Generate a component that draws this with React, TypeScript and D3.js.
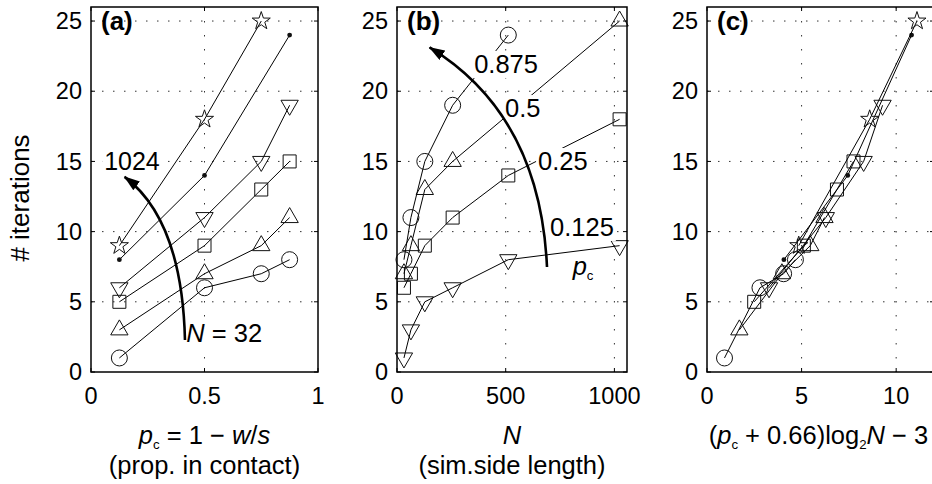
import { useEffect, useRef } from "react";
import * as d3 from "d3";

// contact proportion p_c (x of panel a)
const pcValues = [0.125, 0.5, 0.75, 0.875];
// simulation side length N (x of panel b)
const nValues = [32, 64, 128, 256, 512, 1024];

// # iterations: one array per N, one entry per p_c (null = not run)
const itersN32 = [1, 6, 7, 8];
const itersN64 = [3, 7, 9, 11];
const itersN128 = [5, 9, 13, 15];
const itersN256 = [6, 11, 15, 19];
const itersN512 = [8, 14, null, 24];
const itersN1024 = [9, 18, 25, null];
const iterRows = [itersN32, itersN64, itersN128, itersN256, itersN512, itersN1024];

// marker per N (panels a, c) and per p_c (panel b)
const nMarkers = ["circle", "triUp", "square", "triDown", "dot", "star"];
const pcMarkers = ["triDown", "square", "triUp", "circle"];

// panel b curve labels (as printed), top to bottom
const pcLabels = ["0.875", "0.5", "0.25", "0.125"];

const yTicks = [0, 5, 10, 15, 20, 25];
const xTicksA = [0, 0.5, 1];
const xTicksB = [0, 500, 1000];
const xTicksC = [0, 5, 10];

const W = 932;
const H = 484;
const TOP = 7;
const BOTTOM = 372;
const FONT = "'Liberation Sans', Arial, Helvetica, sans-serif";

// label anchors in data units of panel b
const pcLabelPos = [
  [355, 21.3],
  [497, 18.16],
  [649, 14.39],
  [704, 9.69],
];

type Pt = [number, number];

const App = () => {
  const svgRef = useRef<SVGSVGElement>(null);

  useEffect(() => {
    if (!svgRef.current) return;
    const svg = d3.select(svgRef.current);
    svg.selectAll("*").remove();

    const y = d3.scaleLinear().domain([0, 26]).range([BOTTOM, TOP]);
    const xA = d3.scaleLinear().domain([0, 1]).range([91, 318]);
    const xB = d3.scaleLinear().domain([0, 1058]).range([397, 627]);
    const xC = d3.scaleLinear().domain([0, 12]).range([707, 934]);

    // arrow head
    svg
      .append("defs")
      .append("marker")
      .attr("id", "head")
      .attr("viewBox", "0 0 16 11")
      .attr("refX", 15)
      .attr("refY", 5.5)
      .attr("markerWidth", 16)
      .attr("markerHeight", 11)
      .attr("markerUnits", "userSpaceOnUse")
      .attr("orient", "auto")
      .append("path")
      .attr("d", "M0,0 L16,5.5 L0,11 Z")
      .attr("fill", "#000");

    const markerPath = (type: string) => {
      if (type === "triUp") return "M0,-10 L8.66,5 L-8.66,5 Z";
      if (type === "triDown") return "M0,10 L8.66,-5 L-8.66,-5 Z";
      if (type === "square") return "M-6.5,-6.5 H6.5 V6.5 H-6.5 Z";
      if (type === "star") {
        const pts: string[] = [];
        for (let k = 0; k < 10; k++) {
          const r = k % 2 === 0 ? 9.5 : 3.7;
          const a = -Math.PI / 2 + (k * Math.PI) / 5;
          pts.push(`${(r * Math.cos(a)).toFixed(2)},${(r * Math.sin(a)).toFixed(2)}`);
        }
        return "M" + pts.join("L") + "Z";
      }
      return "";
    };

    const drawFrame = (
      x: d3.ScaleLinear<number, number>,
      xTicks: number[],
    ) => {
      const g = svg.append("g");
      const [l, r] = x.range();
      const [d0, d1] = x.domain();
      // dotted grid
      yTicks
        .filter((t) => t > 0)
        .forEach((t) => {
          g.append("line")
            .attr("x1", l)
            .attr("x2", r)
            .attr("y1", y(t))
            .attr("y2", y(t))
            .attr("stroke", "#333")
            .attr("stroke-width", 1)
            .attr("stroke-dasharray", "1.5,9.5");
        });
      xTicks
        .filter((t) => t > d0 && t < d1)
        .forEach((t) => {
          g.append("line")
            .attr("x1", x(t))
            .attr("x2", x(t))
            .attr("y1", TOP)
            .attr("y2", BOTTOM)
            .attr("stroke", "#333")
            .attr("stroke-width", 1)
            .attr("stroke-dasharray", "1.5,12.5");
        });
      return g;
    };

    const drawAxes = (
      x: d3.ScaleLinear<number, number>,
      xTicks: number[],
    ) => {
      const g = svg.append("g");
      const [l, r] = x.range();
      g.append("rect")
        .attr("x", l)
        .attr("y", TOP)
        .attr("width", r - l)
        .attr("height", BOTTOM - TOP)
        .attr("fill", "none")
        .attr("stroke", "#000")
        .attr("stroke-width", 1.5);
      xTicks.forEach((t) => {
        g.append("line")
          .attr("x1", x(t)).attr("x2", x(t))
          .attr("y1", BOTTOM).attr("y2", BOTTOM - 4)
          .attr("stroke", "#000");
        g.append("line")
          .attr("x1", x(t)).attr("x2", x(t))
          .attr("y1", TOP).attr("y2", TOP + 4)
          .attr("stroke", "#000");
        g.append("text")
          .attr("x", x(t))
          .attr("y", 404)
          .attr("text-anchor", "middle")
          .attr("font-size", 23.5)
          .attr("font-family", FONT)
          .text(String(t));
      });
      yTicks.forEach((t) => {
        g.append("line")
          .attr("x1", l).attr("x2", l + 4)
          .attr("y1", y(t)).attr("y2", y(t))
          .attr("stroke", "#000");
        g.append("line")
          .attr("x1", r).attr("x2", r - 4)
          .attr("y1", y(t)).attr("y2", y(t))
          .attr("stroke", "#000");
        g.append("text")
          .attr("x", l - 9)
          .attr("y", y(t))
          .attr("dy", "0.35em")
          .attr("text-anchor", "end")
          .attr("font-size", 23.5)
          .attr("font-family", FONT)
          .text(String(t));
      });
    };

    const drawSeries = (
      g: d3.Selection<SVGGElement, unknown, null, undefined>,
      x: d3.ScaleLinear<number, number>,
      pts: Pt[],
      type: string,
    ) => {
      const line = d3
        .line<Pt>()
        .x((d) => x(d[0]))
        .y((d) => y(d[1]));
      g.append("path")
        .datum(pts)
        .attr("fill", "none")
        .attr("stroke", "#000")
        .attr("stroke-width", 1)
        .attr("d", line);
      pts.forEach((d) => {
        const cx = x(d[0]);
        const cy = y(d[1]);
        if (type === "circle") {
          g.append("circle")
            .attr("cx", cx).attr("cy", cy).attr("r", 8)
            .attr("fill", "none").attr("stroke", "#111").attr("stroke-width", 1);
        } else if (type === "dot") {
          g.append("circle")
            .attr("cx", cx).attr("cy", cy).attr("r", 2.4)
            .attr("fill", "#111");
        } else {
          g.append("path")
            .attr("transform", `translate(${cx},${cy})`)
            .attr("d", markerPath(type))
            .attr("fill", "none").attr("stroke", "#111").attr("stroke-width", 1);
        }
      });
    };

    // text with optional white background
    type Part = { t: string; italic?: boolean; sub?: boolean };
    const richText = (
      px: number,
      py: number,
      parts: Part[],
      size: number,
      anchor: string,
      bg: boolean,
    ) => {
      const lg = svg.append("g");
      const rect = lg.append("rect").attr("fill", "#fff");
      const t = lg
        .append("text")
        .attr("x", px)
        .attr("y", py)
        .attr("font-size", size)
        .attr("font-family", FONT)
        .attr("text-anchor", anchor);
      let shifted = false;
      parts.forEach((p) => {
        const s = t.append("tspan").text(p.t);
        if (p.italic) s.attr("font-style", "italic");
        if (p.sub) {
          s.attr("font-size", size * 0.52).attr("dy", size * 0.2);
          shifted = true;
        } else if (shifted) {
          s.attr("dy", -size * 0.2);
          shifted = false;
        }
      });
      if (bg) {
        const bb = (t.node() as SVGTextElement).getBBox();
        rect
          .attr("x", bb.x - 2)
          .attr("y", bb.y + 1)
          .attr("width", bb.width + 4)
          .attr("height", bb.height - 1);
      } else rect.remove();
    };

    const arrow = (
      x: d3.ScaleLinear<number, number>,
      from: Pt,
      ctrl: Pt,
      to: Pt,
    ) => {
      const p = d3.path();
      p.moveTo(x(from[0]), y(from[1]));
      p.quadraticCurveTo(x(ctrl[0]), y(ctrl[1]), x(to[0]), y(to[1]));
      svg
        .append("path")
        .attr("d", p.toString())
        .attr("fill", "none")
        .attr("stroke", "#000")
        .attr("stroke-width", 2.6)
        .attr("marker-end", "url(#head)");
    };

    // ---- panel (a): iterations vs p_c, one line per N
    const gA = drawFrame(xA, xTicksA);
    iterRows.forEach((row, i) => {
      const pts = row
        .map((v, j) => (v == null ? null : ([pcValues[j], v] as Pt)))
        .filter((d): d is Pt => d !== null);
      drawSeries(gA, xA, pts, nMarkers[i]);
    });

    // ---- panel (b): iterations vs N, one line per p_c
    const gB = drawFrame(xB, xTicksB);
    pcValues.forEach((_, j) => {
      const pts = nValues
        .map((n, i) => (iterRows[i][j] == null ? null : ([n, iterRows[i][j]] as Pt)))
        .filter((d): d is Pt => d !== null);
      drawSeries(gB, xB, pts, pcMarkers[j]);
    });

    // ---- panel (c): iterations vs (p_c + 0.66) log2 N - 3
    const gC = drawFrame(xC, xTicksC);
    iterRows.forEach((row, i) => {
      const pts = row
        .map((v, j) =>
          v == null
            ? null
            : ([(pcValues[j] + 0.66) * Math.log2(nValues[i]) - 3, v] as Pt),
        )
        .filter((d): d is Pt => d !== null);
      drawSeries(gC, xC, pts, nMarkers[i]);
    });

    // annotations, panel (a)
    richText(xA(0.058), y(14.39), [{ t: "1024" }], 25, "start", true);
    richText(xA(0.42), y(2.14), [{ t: "N", italic: true }, { t: " = 32" }], 25.5, "start", true);
    arrow(xA, [0.414, 2.28], [0.401, 10.83], [0.148, 13.9]);

    // annotations, panel (b)
    pcLabels.forEach((lab, k) => {
      const [lx, ly] = pcLabelPos[k];
      richText(xB(lx), y(ly), [{ t: lab }], 25.5, "start", true);
    });
    richText(xB(808), y(6.91), [{ t: "p", italic: true }, { t: "c", sub: true }], 25.5, "start", false);
    arrow(xB, [690, 7.48], [658, 18.31], [150, 23.12]);

    // axes on top
    drawAxes(xA, xTicksA);
    drawAxes(xB, xTicksB);
    drawAxes(xC, xTicksC);

    // panel tags
    [
      ["(a)", xA],
      ["(b)", xB],
      ["(c)", xC],
    ].forEach(([tag, x]) => {
      const sc = x as d3.ScaleLinear<number, number>;
      svg
        .append("text")
        .attr("x", sc.range()[0] + 10)
        .attr("y", 30)
        .attr("font-size", 26)
        .attr("font-weight", "bold")
        .attr("font-family", FONT)
        .text(tag as string);
    });

    // y axis title
    svg
      .append("text")
      .attr("transform", "translate(29,198) rotate(-90)")
      .attr("text-anchor", "middle")
      .attr("font-size", 26)
      .attr("font-family", FONT)
      .text("# iterations");

    // x axis titles
    const midA = (xA.range()[0] + xA.range()[1]) / 2;
    const midB = (xB.range()[0] + xB.range()[1]) / 2;
    const midC = (xC.range()[0] + 930) / 2;
    richText(
      midA,
      444,
      [
        { t: "p", italic: true },
        { t: "c", sub: true },
        { t: " = 1 \u2212 " },
        { t: "w", italic: true },
        { t: "/" },
        { t: "s", italic: true },
      ],
      25.5,
      "middle",
      false,
    );
    richText(midA, 474, [{ t: "(prop. in contact)" }], 25.5, "middle", false);
    richText(midB, 444, [{ t: "N", italic: true }], 25.5, "middle", false);
    richText(midB, 474, [{ t: "(sim.side length)" }], 25.5, "middle", false);
    richText(
      midC,
      444,
      [
        { t: "(" },
        { t: "p", italic: true },
        { t: "c", sub: true },
        { t: " + 0.66)log" },
        { t: "2", sub: true },
        { t: "N", italic: true },
        { t: " \u2212 3" },
      ],
      25.5,
      "middle",
      false,
    );
  }, []);

  return (
    <svg
      ref={svgRef}
      width={W}
      height={H}
      style={{ position: "absolute", left: 0, top: 0, background: "#fff" }}
    ></svg>
  );
};

export default App;
